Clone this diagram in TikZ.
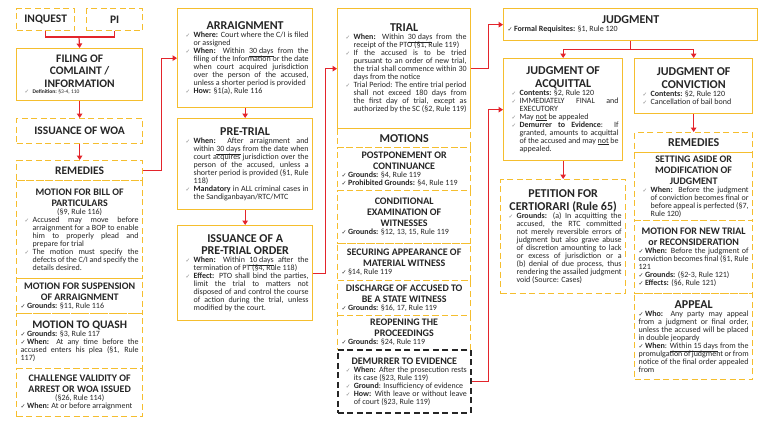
\documentclass[tikz,border=0pt]{standalone}
\usepackage{fontspec}
\setmainfont{Carlito}
\newfontfamily\symfont{DejaVu Sans}
\usetikzlibrary{arrows.meta}

\definecolor{gold}{HTML}{F5BE2E}
\definecolor{flowred}{HTML}{E3242B}
\definecolor{ink}{HTML}{262626}

% titles and check items
\newcommand\bodyfont{\fontsize{8}{8}\selectfont\lineskiplimit=-5pt\lineskip=0pt\hyphenpenalty=10000\tolerance=9999}
\newcommand\ttl[1]{{\centering\fontsize{12}{12.5}\selectfont\bfseries #1\par}}
\newcommand\ltl[1]{{\centering\fontsize{11.5}{12.5}\selectfont\bfseries #1\par}}
\newcommand\stl[1]{{\centering\fontsize{10}{11}\selectfont\bfseries #1\par}}
\newcommand\ck{{\symfont\fontsize{5.5}{5}\selectfont\color{gray}✓}}
\newcommand\cb{{\symfont\fontsize{6}{5}\selectfont\bfseries ✓}}
\newcommand\itm[1]{\par\hangindent=12pt\hangafter=1\noindent\hbox to 12pt{\hskip4pt\ck\hss}#1\par}
\newcommand\fitm[1]{\par\noindent\cb\,#1\par}

\begin{document}
\begin{tikzpicture}[x=1pt, y=-1pt,
  box/.style={anchor=north west, inner xsep=4pt, inner ysep=1.5pt, text=ink, align=justify, font=\bodyfont},
  solidbox/.style={box, draw=gold, line width=1.3pt},
  dashbox/.style={box, draw=gold, line width=1.3pt, dash pattern=on 6pt off 3.5pt},
  blackbox/.style={box, draw=black!85, line width=1.6pt, dash pattern=on 6pt off 3.5pt},
  colA/.style={minimum width=126pt, text width=118pt},
  colB/.style={minimum width=135pt, text width=127pt},
  colC/.style={minimum width=133pt, text width=125pt},
  colE/.style={minimum width=118pt, text width=110pt},
  link/.style={draw=flowred, line width=1.2pt},
  arrow/.style={link, -{Triangle[length=4.5pt, width=5.5pt]}}
]
\useasboundingbox[fill=white] (0,0) rectangle (768,439);

% complaint and remedies before arraignment
\node[dashbox, minimum width=58pt, text width=50pt, minimum height=22pt] (inq) at (16,8) {\ltl{INQUEST}};
\node[dashbox, minimum width=56pt, text width=48pt, minimum height=22pt] (pi) at (86,8) {\ltl{PI}};
\node[solidbox, colA, minimum height=52pt] (fil) at (16,48) {\ltl{FILING OF\\COMLAINT /\\INFORMATION}{\fontsize{5.5}{6.5}\selectfont\itm{\textbf{Definition:} §3-4, 110}}};
\node[dashbox, colA, minimum height=25pt] (woa) at (16,118) {\ltl{ISSUANCE OF WOA}};
\node[dashbox, colA, minimum height=20pt] (remA) at (16,160) {\ltl{REMEDIES}};
\node[dashbox, colA, minimum height=98pt] (bop) at (16,180) {\stl{MOTION FOR BILL OF\\PARTICULARS}{\centering(§9, Rule 116)\par}\itm{Accused may move before arraignment for a BOP to enable him to properly plead and prepare for trial}\itm{The motion must specify the defects of the C/I and specify the details desired.}};
\node[dashbox, colA, minimum height=35pt] (susp) at (16,278) {\stl{MOTION FOR SUSPENSION\\OF ARRAIGNMENT}\fitm{\textbf{Grounds:} §11, Rule 116}};
\node[dashbox, colA, minimum height=55pt] (quash) at (16,313) {\ltl{MOTION TO QUASH}\fitm{\textbf{Grounds:} §3, Rule 117}\fitm{\textbf{When:} At any time before the accused enters his plea (§1, Rule 117)}};
\node[dashbox, colA, minimum height=48pt] (chal) at (16,368) {\stl{CHALLENGE VALIDITY OF\\ARREST OR WOA ISSUED}{\centering(§26, Rule 114)\par}\fitm{\textbf{When:} At or before arraignment}};

% arraignment to pre-trial order
\node[solidbox, colB, minimum height=99pt] (arr) at (177,8) {\ttl{ARRAIGNMENT}\itm{\textbf{Where:} Court where the C/I is filed or assigned}\itm{\textbf{When:} Within \underline{30 days} from the filing of the Information or the date when court acquired jurisdiction over the person of the accused, unless a shorter period is provided}\itm{\textbf{How:} §1(a), Rule 116}};
\node[solidbox, colB, minimum height=91pt] (pre) at (177,118) {\ttl{PRE-TRIAL}\itm{\textbf{When:} After arraignment and within \underline{30 days} from the date when court acquires jurisdiction over the person of the accused, unless a shorter period is provided (§1, Rule 118)}\itm{\textbf{Mandatory} in ALL criminal cases in the Sandiganbayan/RTC/MTC}};
\node[solidbox, colB, minimum height=95pt] (pto) at (177,225) {\ttl{ISSUANCE OF A\\PRE-TRIAL ORDER}\itm{\textbf{When:} Within \underline{10 days} after the termination of PT (§4, Rule 118)}\itm{\textbf{Effect:} PTO shall bind the parties, limit the trial to matters not disposed of and control the course of action during the trial, unless modified by the court.}};

% trial and motions
\node[solidbox, colC, minimum height=120pt] (trial) at (337,8) {\ttl{TRIAL}\itm{\textbf{When:} Within \underline{30 days} from the receipt of the PTO (§1, Rule 119)}\itm{If the accused is to be tried pursuant to an order of new trial, the trial shall commence within 30 days from the notice}\itm{Trial Period: The entire trial period shall not exceed 180 days from the first day of trial, except as authorized by the SC (§2, Rule 119)}};
\node[dashbox, colC, minimum height=19pt] (mot) at (337,128) {\ttl{MOTIONS}};
\node[dashbox, colC, minimum height=43pt] (post) at (337,147) {\stl{POSTPONEMENT OR\\CONTINUANCE}\fitm{\textbf{Grounds:} §4, Rule 119}\fitm{\textbf{Prohibited Grounds:} §4, Rule 119}};
\node[dashbox, colC, minimum height=53pt] (cond) at (337,190) {\stl{CONDITIONAL\\EXAMINATION OF\\WITNESSES}\fitm{\textbf{Grounds:} §12, 13, 15, Rule 119}};
\node[dashbox, colC, minimum height=37pt] (sec) at (337,243) {\stl{SECURING APPEARANCE OF\\MATERIAL WITNESS}\fitm{§14, Rule 119}};
\node[dashbox, colC, minimum height=35pt] (dis) at (337,280) {\stl{DISCHARGE OF ACCUSED TO\\BE A STATE WITNESS}\fitm{\textbf{Grounds:} §16, 17, Rule 119}};
\node[dashbox, colC, minimum height=34pt] (reo) at (337,315) {\stl{REOPENING THE\\PROCEEDINGS}\fitm{\textbf{Grounds:} §24, Rule 119}};
\node[blackbox, colC, minimum height=63pt] (dem) at (337,349) {\stl{DEMURRER TO EVIDENCE}\itm{\textbf{When:} After the prosecution rests its case (§23, Rule 119)}\itm{\textbf{Ground}: Insufficiency of evidence}\itm{\textbf{How:} With leave or without leave of court (§23, Rule 119)}};

% judgment
\node[solidbox, minimum width=254pt, text width=246pt, minimum height=32pt] (judg) at (503,8) {\ttl{JUDGMENT}\fitm{\textbf{Formal Requisites:} §1, Rule 120}};
\node[solidbox, minimum width=119pt, text width=111pt, minimum height=102pt] (acq) at (503,58) {\ttl{JUDGMENT OF\\ACQUITTAL}\itm{\textbf{Contents:} §2, Rule 120}\itm{IMMEDIATELY FINAL and EXECUTORY}\itm{May \underline{not} be appealed}\itm{\textbf{Demurrer to Evidence}: If granted, amounts to acquittal of the accused and may \underline{not} be appealed.}};
\node[dashbox, minimum width=125pt, text width=117pt, minimum height=114pt] (pet) at (500,179) {\ttl{PETITION FOR\\CERTIORARI (Rule 65)}\itm{\textbf{Grounds:} (a) In acquitting the accused, the RTC committed not merely reversible errors of judgment but also grave abuse of discretion amounting to lack or excess of jurisdiction or a (b) denial of due process, thus rendering the assailed judgment void (Source: Cases)}};
\node[solidbox, colE, minimum height=55pt] (conv) at (634,58) {\ttl{JUDGMENT OF\\CONVICTION}\itm{\textbf{Contents:} §2, Rule 120}\itm{Cancellation of bail bond}};
\node[dashbox, colE, minimum height=20pt] (remE) at (634,132) {\ttl{REMEDIES}};
\node[dashbox, colE, minimum height=68pt, inner ysep=0.5pt] (set) at (634,152) {\stl{SETTING ASIDE OR\\MODIFICATION OF\\JUDGMENT}\itm{\textbf{When:} Before the judgment of conviction becomes final or before appeal is perfected (§7, Rule 120)}};
\node[dashbox, colE, minimum height=73pt] (newt) at (634,220) {\stl{MOTION FOR NEW TRIAL\\or RECONSIDERATION}\fitm{\textbf{When:} Before the judgment of conviction becomes final (§1, Rule 121}\fitm{\textbf{Grounds:} (§2-3, Rule 121)}\fitm{\textbf{Effects:} (§6, Rule 121)}};
\node[dashbox, colE, minimum height=86pt] (app) at (634,293) {\ttl{APPEAL}\fitm{\textbf{Who:} Any party may appeal from a judgment or final order, unless the accused will be placed in double jeopardy}\fitm{\textbf{When}: \underline{Within 15 days} from the promulgation of judgment or from notice of the final order appealed from}};

% connectors
\coordinate (merge) at (79,37);
\draw[link] (inq.south) |- (merge) -| (pi.south);
\draw[arrow] (merge) -- (fil.north);
\foreach \a/\b in {fil/woa, woa/remA, arr/pre, pre/pto, acq/pet, conv/remE} \draw[arrow] (\a) -- (\b);
\draw[arrow] (remA.east) -- ++(18,0) |- (arr.west);
\draw[arrow] (pto.east) -- ++(12,0) |- (trial.west);
\draw[arrow] (trial.east) -- ++(17,0) |- (judg.west);
\draw[arrow] (dem.east) -- ++(17,0) |- (acq.west);
\draw[link] (judg.south) -- ++(0,8) coordinate (split);
\draw[arrow] (split) -| (acq.north);
\draw[arrow] (split) -| (conv.north);
\end{tikzpicture}
\end{document}
